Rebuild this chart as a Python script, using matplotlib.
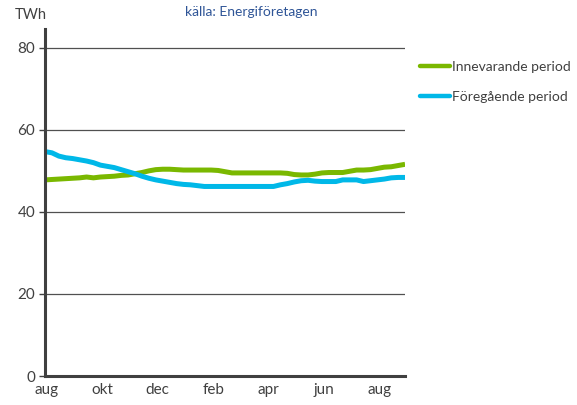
import numpy as np
import matplotlib.pyplot as plt

# weekly values, aug -> aug (TWh)
innevarande = [47.8, 47.9, 48.0, 48.1, 48.2, 48.3, 48.5, 48.3, 48.5, 48.6,
               48.7, 48.9, 49.0, 49.3, 49.6, 50.0, 50.3, 50.4, 50.4, 50.3,
               50.2, 50.2, 50.2, 50.2, 50.2, 50.1, 49.8, 49.5, 49.5, 49.5,
               49.5, 49.5, 49.5, 49.5, 49.5, 49.4, 49.1, 49.0, 49.0, 49.2,
               49.5, 49.6, 49.6, 49.6, 49.9, 50.2, 50.2, 50.3, 50.6, 50.9,
               51.0, 51.3, 51.6]
foregaende = [54.7, 54.4, 53.6, 53.2, 53.0, 52.7, 52.4, 52.0, 51.4, 51.1,
              50.8, 50.3, 49.8, 49.3, 48.7, 48.2, 47.8, 47.5, 47.2, 46.9,
              46.7, 46.6, 46.4, 46.2, 46.2, 46.2, 46.2, 46.2, 46.2, 46.2,
              46.2, 46.2, 46.2, 46.2, 46.6, 46.9, 47.3, 47.6, 47.7, 47.5,
              47.4, 47.4, 47.4, 47.8, 47.8, 47.8, 47.4, 47.6, 47.8, 48.0,
              48.3, 48.4, 48.4]
months = ["aug", "okt", "dec", "feb", "apr", "jun", "aug"]

plt.rcParams['font.family'] = ['Lato', 'DejaVu Sans']
grey = '#404040'

fig = plt.figure(figsize=(5.77, 4.05), dpi=100)
ax = fig.add_axes([0.078, 0.0716, 0.624, 0.857])

x = np.arange(len(innevarande)) * 13 / (len(innevarande) - 1)
ax.plot(x, innevarande, color='#7AB800', lw=3.6, label='Innevarande period',
        solid_capstyle='butt')
ax.plot(x, foregaende, color='#00B8E8', lw=3.6, label='Föregående period',
        solid_capstyle='butt')

ax.set_xlim(0, 13)
ax.set_ylim(0, 84.6)
ax.set_yticks([0, 20, 40, 60, 80])
ax.set_xticks(np.arange(0, 13, 2) + 0.07)
ax.set_xticklabels(months)
for yv in [20, 40, 60, 80]:
    ax.axhline(yv, color='#505050', lw=0.9, zorder=0)

for s in ['top', 'right']:
    ax.spines[s].set_visible(False)
for s in ['left', 'bottom']:
    ax.spines[s].set_color(grey)
    ax.spines[s].set_linewidth(2.2)
ax.tick_params(axis='y', length=4, width=1, color=grey, labelcolor=grey,
               labelsize=11, pad=3)
ax.tick_params(axis='x', length=0, labelcolor=grey, labelsize=11, pad=5)

fig.text(0.026, 0.963, 'TWh', fontsize=10.5, color=grey, ha='left', va='center')
fig.text(0.435, 0.970, 'källa: Energiföretagen', fontsize=10,
         color='#2F5597', ha='center', va='center')

leg = ax.legend(loc='upper left', bbox_to_anchor=(1.025, 0.925), frameon=False,
                fontsize=10, handlelength=2.2, handletextpad=0.1,
                labelspacing=1.35, labelcolor=grey, borderaxespad=0)
for line in leg.get_lines():
    line.set_linewidth(3.2)
    line.set_solid_capstyle('round')

fig.savefig('out.png', dpi=100)
